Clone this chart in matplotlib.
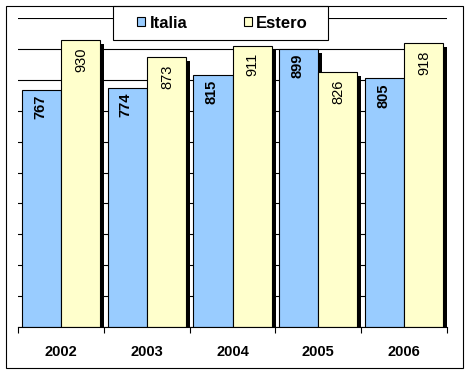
import matplotlib
matplotlib.use("Agg")
import matplotlib.pyplot as plt
import matplotlib.transforms as mt
from matplotlib.patches import Rectangle, Patch
import numpy as np

years = ["2002", "2003", "2004", "2005", "2006"]
italia = [767, 774, 815, 899, 805]
estero = [930, 873, 911, 826, 918]
series_names = ["Italia", "Estero"]
colors = ["#99CCFF", "#FFFFCC"]

plt.rcParams['font.family'] = ['Liberation Sans', 'DejaVu Sans']

W, H, DPI = 470, 374, 100
fig = plt.figure(figsize=(W / DPI, H / DPI), dpi=DPI)
fig.patch.set_facecolor("white")

def px(x0, y0, x1, y1):
    return [x0 / W, 1 - y1 / H, (x1 - x0) / W, (y1 - y0) / H]

ax = fig.add_axes(px(18, 18, 447, 327))
ax.set_facecolor("white")

x = np.arange(len(years))
bw = 0.455

b1 = ax.bar(x - bw / 2, italia, width=bw, color=colors[0], edgecolor="black", linewidth=0.8, zorder=3)
b2 = ax.bar(x + bw / 2, estero, width=bw, color=colors[1], edgecolor="black", linewidth=0.8, zorder=3)
# shadows drawn behind all bars
for bars in (b1, b2):
    for r in bars:
        s = Rectangle(r.get_xy(), r.get_width(), r.get_height(), facecolor="black",
                      edgecolor="none", zorder=2.5)
        s.set_transform(ax.transData + mt.ScaledTranslation(4 / DPI, -4 / DPI, fig.dpi_scale_trans))
        ax.add_patch(s)

for bars, vals, weight, dx, dy in ((b1, italia, "bold", -1, -3.5), (b2, estero, "normal", 0.5, -5.5)):
    for r, v in zip(bars, vals):
        ax.annotate(str(v), (r.get_x() + r.get_width() / 2, v), xytext=(dx, dy),
                    textcoords="offset points", rotation=90, ha="center", va="top",
                    fontsize=10.5, fontweight=weight, zorder=5)

ax.set_xlim(-0.5, len(years) - 0.5)
ax.set_ylim(0, 1000)
ax.set_yticks(np.arange(0, 1001, 100))
ax.yaxis.grid(True, color="black", linewidth=0.8, zorder=0)
ax.set_axisbelow(True)
ax.tick_params(axis="y", left=False, labelleft=False)

ax.set_xticks(np.arange(-0.5, len(years)), minor=False)
ax.set_xticklabels([])
ax.set_xticks(x, minor=True)
ax.set_xticklabels(years, minor=True, fontsize=10.5, fontweight="bold")
ax.tick_params(axis="x", which="major", direction="out", length=4.5, width=0.8, color="black")
ax.tick_params(axis="x", which="minor", length=0, pad=13)

for s in ("left", "right", "top"):
    ax.spines[s].set_visible(False)
ax.spines["bottom"].set_linewidth(0.8)
ax.spines["bottom"].set_zorder(6)

# legend box
lb = px(113, 6, 328, 40)
fig.patches.append(Rectangle((lb[0], lb[1]), lb[2], lb[3], transform=fig.transFigure,
                             facecolor="white", edgecolor="black", linewidth=0.8, zorder=10))
handles = [Patch(facecolor=c, edgecolor="black", linewidth=0.8) for c in colors]
leg = fig.legend(handles, series_names, loc="center",
                 bbox_to_anchor=(lb[0] + lb[2] / 2 + 2 / W, lb[1] + lb[3] / 2),
                 ncol=2, frameon=False, prop={"size": 12, "weight": "bold"},
                 handlelength=0.5, handleheight=0.5, handletextpad=0.25, columnspacing=3.4,
                 borderpad=0)
leg.set_zorder(11)

# outer frame
fb = px(5.5, 6, 462.5, 367.5)
fig.patches.append(Rectangle((fb[0], fb[1]), fb[2], fb[3], transform=fig.transFigure,
                             facecolor="none", edgecolor="black", linewidth=0.8, zorder=12))

fig.savefig("out.png", dpi=DPI, facecolor="white")
